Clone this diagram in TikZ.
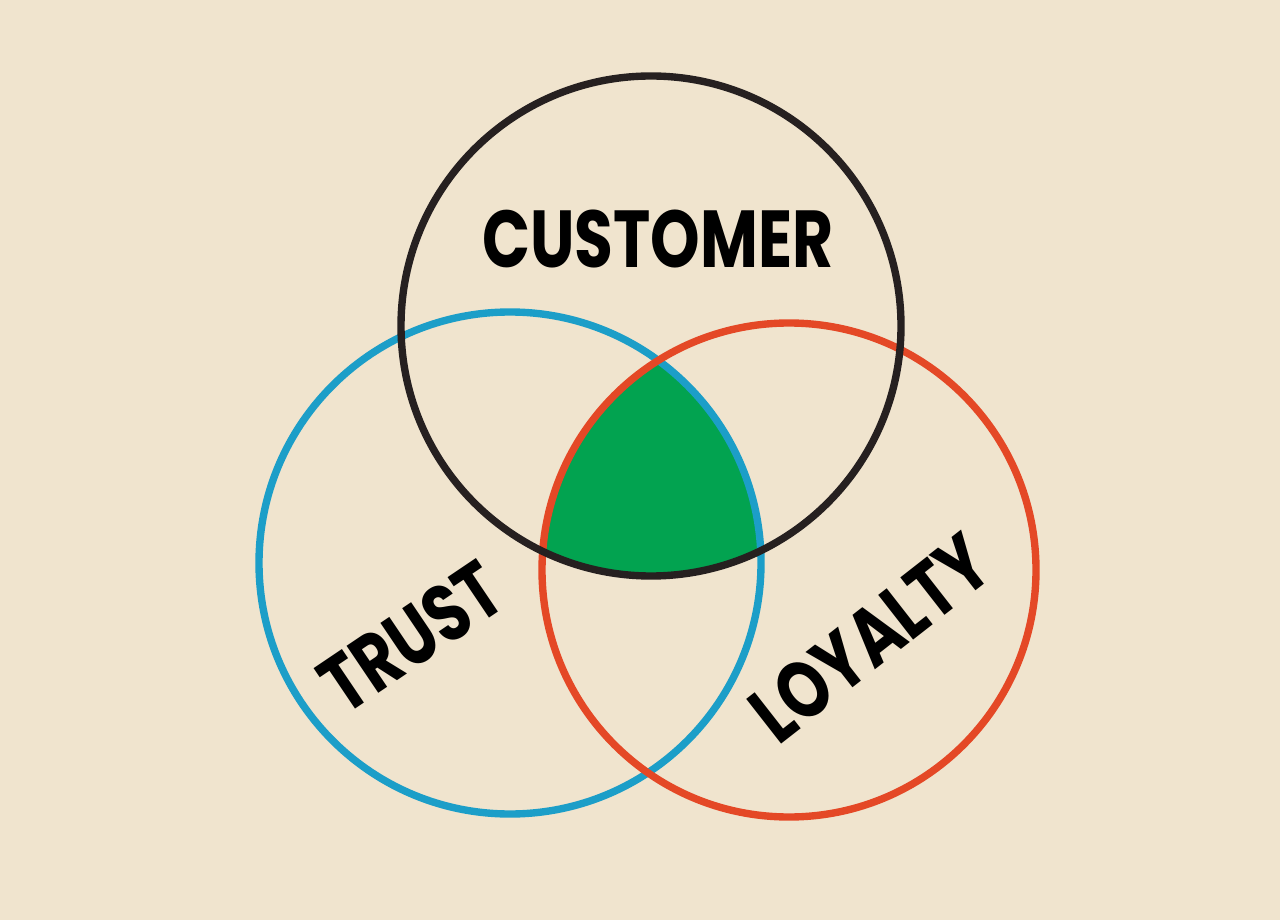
\documentclass[tikz,border=0pt]{standalone}
\usepackage{fontspec}
\usetikzlibrary{positioning}
\newfontfamily\handfont{Poppins}[FakeStretch=0.78]
\definecolor{paper}{RGB}{240,228,206}
\definecolor{ink}{RGB}{38,32,32}
\definecolor{cyanb}{RGB}{28,158,200}
\definecolor{redo}{RGB}{228,72,38}
\definecolor{leaf}{RGB}{2,163,80}

\begin{document}
\begin{tikzpicture}[x=0.02cm,y=0.02cm,font=\handfont\bfseries\fontsize{46}{50}\selectfont,
  ring/.style={line width=4.2pt},word/.style={inner sep=0pt}]
\fill[paper] (0,0) rectangle (1280,920);
\coordinate (cust) at (651,594);
\coordinate (trust) at (510,357);
\coordinate (loyal) at (789,350);
% shared part of all three
\begin{scope}
\clip (cust) circle (250);
\clip (trust) circle (251);
\fill[leaf] (loyal) circle (247);
\end{scope}
\draw[ring,cyanb] (trust) circle (251);
\draw[ring,redo] (loyal) circle (247);
\draw[ring,ink] (cust) circle (250);
\node[word] (customer) at (658,681) {CUSTOMER};
\node[word,rotate=34] (trustlbl) at (411,283) {TRUST};
\node[word,rotate=38] (loyaltylbl) at (870,282) {LOYALTY};
\end{tikzpicture}
\end{document}
